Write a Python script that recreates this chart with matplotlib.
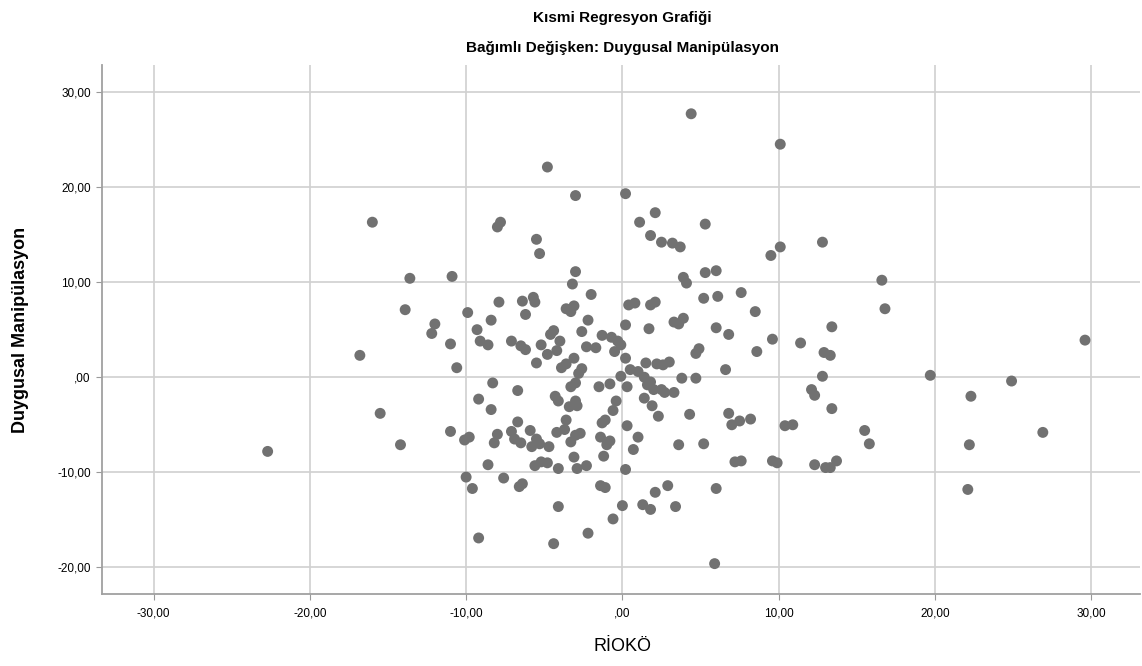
import matplotlib
matplotlib.use("Agg")
import matplotlib.pyplot as plt
from matplotlib.ticker import FuncFormatter

plt.rcParams['font.family'] = ['Liberation Sans', 'DejaVu Sans']

# partial residuals
rioko = [4.4, 10.1, -4.8, 0.2, -3.0, -16.0, -7.8, -8.0, 2.1, 1.1, 5.3, -5.5, -5.3, 1.8,
         2.5, 3.2, 3.7, 12.8, 10.1, 9.5, -3.0, -13.6, -10.9, 5.3, 6.0, 3.9, 4.1, -3.2,
         16.6, 7.6, -2.0, -5.7, -5.6, -6.4, -7.9, 0.8, 0.4, 2.1, 1.8, 5.2, 6.1, -3.6,
         -3.3, -3.1, -13.9, 16.8, 8.5, -9.9, -6.2, -2.2, -8.4, 3.3, 3.6, 3.9, 0.2, -4.4,
         -4.6, -2.6, -1.3, -0.7, 1.7, 6.0, 13.4, -12.0, -12.2, -9.3, -0.3, -0.1, 6.8, 9.6,
         -9.1, -8.6, -11.0, -7.1, -6.5, -6.2, -5.2, -4.0, -1.7, -2.3, 29.6, 11.4, 4.9, 4.7,
         -16.8, -4.2, -4.8, -3.1, -0.5, 8.6, 12.9, 13.3, 0.2, 1.5, 2.2, 3.0, 2.6, -5.5,
         -3.6, -3.9, -2.6, -2.8, -10.6, 0.5, 1.0, 1.4, 1.8, 6.6, 12.8, 19.7, 24.9, 3.8,
         4.7, -0.1, -8.3, -3.3, -3.0, -1.5, -0.8, 0.3, 1.6, 2.0, 2.5, -6.7, 12.1, 12.3,
         2.7, 3.3, -9.2, -4.3, -4.1, -3.0, -0.4, 1.4, 22.3, -15.5, -8.4, -3.4, -2.9, 1.9,
         13.4, 4.3, -0.6, 2.3, 6.8, 7.5, 8.2, -6.7, -3.6, -1.3, -1.1, 0.3, -7.1, -5.9,
         -4.2, -3.7, -2.7, -8.0, -11.0, -10.1, -9.8, -6.9, -6.5, -5.5, -3.0, -1.4, -0.8,
         1.0, 5.2, 10.4, 10.9, 15.5, 26.9, -14.2, -8.2, -5.8, -5.3, -4.7, -3.3, -1.0, 0.7,
         3.6, 7.0, 15.8, 22.2, -22.7, -5.6, -5.2, -4.8, -3.1, -2.3, -4.1, -8.6, -2.9, -1.2,
         0.2, 7.2, 7.6, 9.6, 9.9, 12.3, 13.0, 13.3, 13.7, -10.0, -9.6, -6.6, -6.4, -7.6,
         -1.4, -1.1, 1.3, 2.1, 2.9, 1.8, 0.0, 3.4, -4.1, -0.6, 6.0, 22.1, -2.2, -9.2,
         -4.4, 5.9]
duygusal = [27.7, 24.5, 22.1, 19.3, 19.1, 16.3, 16.3, 15.8, 17.3, 16.3, 16.1, 14.5, 13.0, 14.9,
            14.2, 14.1, 13.7, 14.2, 13.7, 12.8, 11.1, 10.4, 10.6, 11.0, 11.2, 10.5, 9.9, 9.8,
            10.2, 8.9, 8.7, 8.4, 7.9, 8.0, 7.9, 7.8, 7.6, 7.9, 7.6, 8.3, 8.5, 7.2,
            6.9, 7.5, 7.1, 7.2, 6.9, 6.8, 6.6, 6.0, 6.0, 5.8, 5.6, 6.2, 5.5, 4.9,
            4.5, 4.8, 4.4, 4.2, 5.1, 5.2, 5.3, 5.6, 4.6, 5.0, 3.8, 3.4, 4.5, 4.0,
            3.8, 3.4, 3.5, 3.8, 3.3, 2.9, 3.4, 3.8, 3.1, 3.2, 3.9, 3.6, 3.0, 2.5,
            2.3, 2.8, 2.4, 2.0, 2.7, 2.7, 2.6, 2.3, 2.0, 1.5, 1.4, 1.6, 1.3, 1.5,
            1.4, 1.0, 0.9, 0.4, 1.0, 0.8, 0.6, 0.0, -0.5, 0.8, 0.1, 0.2, -0.4, -0.1,
            -0.1, 0.1, -0.6, -1.0, -0.6, -1.0, -0.7, -1.0, -0.8, -1.3, -1.3, -1.4, -1.3, -1.9,
            -1.6, -1.6, -2.3, -2.0, -2.5, -2.5, -2.5, -2.2, -2.0, -3.8, -3.4, -3.1, -3.0, -3.0,
            -3.3, -3.9, -3.5, -4.1, -3.8, -4.6, -4.4, -4.7, -4.5, -4.8, -4.5, -5.1, -5.7, -5.6,
            -5.8, -5.5, -5.9, -6.0, -5.7, -6.6, -6.3, -6.5, -6.9, -6.5, -6.1, -6.3, -6.7,
            -6.3, -7.0, -5.1, -5.0, -5.6, -5.8, -7.1, -6.9, -7.3, -7.0, -7.3, -6.8, -7.1, -7.6,
            -7.1, -5.0, -7.0, -7.1, -7.8, -9.3, -8.9, -9.0, -8.4, -9.3, -9.6, -9.2, -9.6, -8.3,
            -9.7, -8.9, -8.8, -8.8, -9.0, -9.2, -9.5, -9.5, -8.8, -10.5, -11.7, -11.5, -11.2, -10.6,
            -11.4, -11.6, -13.4, -12.1, -11.4, -13.9, -13.5, -13.6, -13.6, -14.9, -11.7, -11.8, -16.4, -16.9,
            -17.5, -19.6]

xticks = [-30, -20, -10, 0, 10, 20, 30]
yticks = [-20, -10, 0, 10, 20, 30]


def spss_fmt(v, pos):
    s = "%.2f" % v
    s = s.replace(".", ",")
    if s.startswith("0,") or s.startswith("-0,"):
        s = s.replace("0,", ",", 1)
    return s


fig = plt.figure(figsize=(11.42, 6.66), dpi=100)
ax = fig.add_axes([0.0893, 0.108, 0.9087, 0.794])

ax.scatter(rioko, duygusal, s=62, color='#717171', edgecolors='none', zorder=3)

ax.set_xlim(-33.3, 33.1)
ax.set_ylim(-22.8, 32.8)
ax.set_xticks(xticks)
ax.set_yticks(yticks)
ax.xaxis.set_major_formatter(FuncFormatter(spss_fmt))
ax.yaxis.set_major_formatter(FuncFormatter(spss_fmt))
ax.tick_params(labelsize=8.5, length=4, color='#999999', colors='black')
ax.tick_params(axis='x', pad=6)
ax.tick_params(axis='y', pad=4)

ax.grid(True, color='#d0d0d0', linewidth=1.2, zorder=0)
ax.set_axisbelow(True)
for side in ['top', 'right']:
    ax.spines[side].set_visible(False)
for side in ['left', 'bottom']:
    ax.spines[side].set_color('#a0a0a0')
    ax.spines[side].set_linewidth(1.3)

fig.text(0.545, 0.973, "Kısmi Regresyon Grafiği", ha='center', va='center',
         fontsize=11, fontweight='bold')
fig.text(0.545, 0.928, "Bağımlı Değişken: Duygusal Manipülasyon", ha='center', va='center',
         fontsize=11, fontweight='bold')
fig.text(0.545, 0.030, "RİOKÖ", ha='center', va='center', fontsize=13)
fig.text(0.018, 0.505, "Duygusal Manipülasyon", ha='center', va='center', fontsize=13,
         fontweight='bold', rotation=90)

fig.savefig("out.png", dpi=100)
